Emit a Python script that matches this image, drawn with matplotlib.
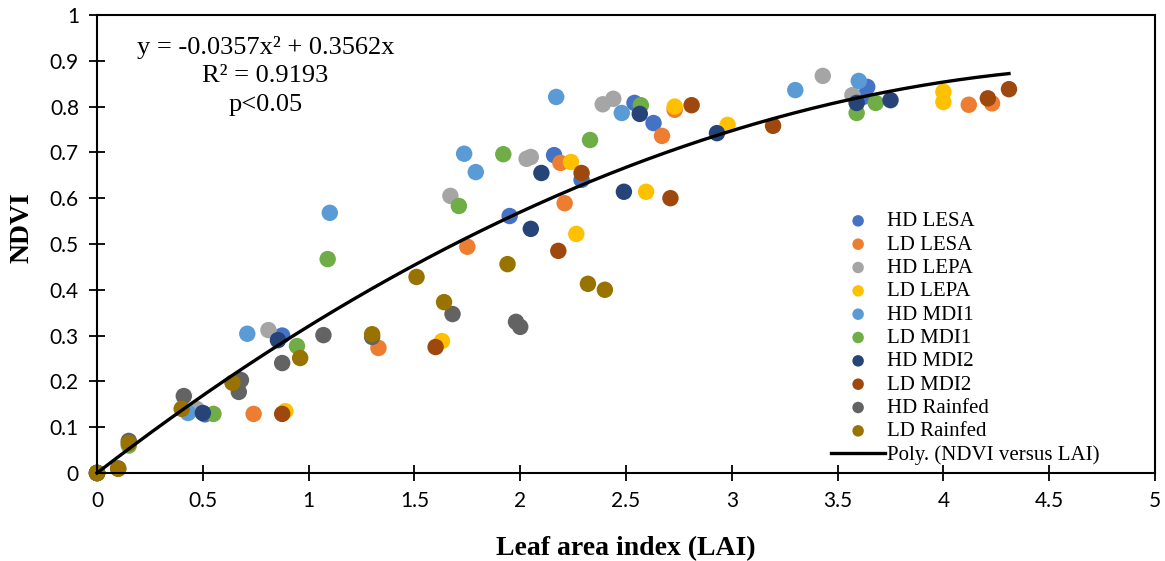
import numpy as np
import matplotlib.pyplot as plt

# NDVI vs LAI by treatment
hd_lesa_x = [0, 0.51, 0.875, 1.95, 2.16, 2.29, 2.54, 2.63, 3.62, 3.64]
hd_lesa_y = [0, 0.128, 0.30, 0.561, 0.694, 0.64, 0.808, 0.764, 0.821, 0.843]
ld_lesa_x = [0, 0.74, 1.33, 1.75, 2.19, 2.21, 2.67, 2.73, 4.12, 4.23]
ld_lesa_y = [0, 0.129, 0.273, 0.494, 0.677, 0.589, 0.736, 0.793, 0.804, 0.807]
hd_lepa_x = [0, 0.47, 0.81, 1.67, 2.03, 2.05, 2.39, 2.44, 3.43, 3.57]
hd_lepa_y = [0, 0.14, 0.312, 0.605, 0.686, 0.69, 0.805, 0.817, 0.867, 0.825]
ld_lepa_x = [0, 0.89, 1.63, 2.24, 2.265, 2.595, 2.73, 2.98, 4.00, 4.00]
ld_lepa_y = [0, 0.135, 0.288, 0.679, 0.522, 0.614, 0.800, 0.760, 0.832, 0.810]
hd_mdi1_x = [0, 0.43, 0.71, 1.10, 1.735, 1.79, 2.17, 2.48, 3.30, 3.60]
hd_mdi1_y = [0, 0.131, 0.304, 0.568, 0.697, 0.657, 0.821, 0.786, 0.836, 0.856]
ld_mdi1_x = [0, 0.15, 0.55, 0.945, 1.09, 1.71, 1.92, 2.33, 2.57, 3.59, 3.68]
ld_mdi1_y = [0, 0.06, 0.129, 0.277, 0.467, 0.583, 0.696, 0.727, 0.803, 0.786, 0.808]
hd_mdi2_x = [0, 0.50, 0.855, 2.05, 2.10, 2.49, 2.565, 2.93, 3.59, 3.75]
hd_mdi2_y = [0, 0.131, 0.29, 0.533, 0.655, 0.614, 0.784, 0.742, 0.808, 0.814]
ld_mdi2_x = [0, 0.875, 1.60, 2.18, 2.29, 2.71, 2.81, 3.195, 4.21, 4.31]
ld_mdi2_y = [0, 0.129, 0.275, 0.485, 0.655, 0.600, 0.803, 0.758, 0.818, 0.838]
hd_rain_x = [0, 0.10, 0.15, 0.41, 0.67, 0.68, 0.875, 1.07, 1.30, 1.68, 1.98, 2.00]
hd_rain_y = [0, 0.01, 0.07, 0.168, 0.177, 0.203, 0.240, 0.301, 0.297, 0.347, 0.330, 0.319]
ld_rain_x = [0, 0.10, 0.15, 0.40, 0.64, 0.96, 1.30, 1.51, 1.64, 1.94, 2.32, 2.40]
ld_rain_y = [0, 0.009, 0.065, 0.140, 0.197, 0.251, 0.303, 0.428, 0.373, 0.456, 0.413, 0.400]

labels = ["HD LESA", "LD LESA", "HD LEPA", "LD LEPA", "HD MDI1",
          "LD MDI1", "HD MDI2", "LD MDI2", "HD Rainfed", "LD Rainfed"]
colors = ["#4472C4", "#ED7D31", "#A5A5A5", "#FFC000", "#5B9BD5",
          "#70AD47", "#264478", "#9E480E", "#636363", "#997300"]
xs = [hd_lesa_x, ld_lesa_x, hd_lepa_x, ld_lepa_x, hd_mdi1_x,
      ld_mdi1_x, hd_mdi2_x, ld_mdi2_x, hd_rain_x, ld_rain_x]
ys = [hd_lesa_y, ld_lesa_y, hd_lepa_y, ld_lepa_y, hd_mdi1_y,
      ld_mdi1_y, hd_mdi2_y, ld_mdi2_y, hd_rain_y, ld_rain_y]

# quadratic trend through the origin
a2, a1 = -0.0357, 0.3562
fit_xmax = 4.31

serif = "Liberation Serif"

fig = plt.figure(figsize=(11.65, 5.61), dpi=100)
ax = fig.add_axes([0.0833, 0.1569, 0.9081, 0.8164])

for x, y, c, lab in zip(xs, ys, colors, labels):
    ax.scatter(x, y, s=140, color=c, edgecolors="none", label=lab,
               zorder=2, clip_on=False)

xf = np.linspace(0, fit_xmax, 200)
ax.plot(xf, a2 * xf**2 + a1 * xf, color="black", lw=2.4, zorder=3,
        label="Poly. (NDVI versus LAI)", clip_on=False)

xticks = np.arange(0, 5.01, 0.5)
yticks = np.round(np.arange(0, 1.01, 0.1), 1)
ax.set_xlim(0, 5)
ax.set_ylim(0, 1)
ax.set_xticks(xticks)
ax.set_yticks(yticks)
ax.set_xticklabels([f"{v:g}" for v in xticks])
ax.set_yticklabels([f"{v:g}" for v in yticks])
ax.tick_params(direction="inout", length=12, width=1.3, labelsize=15, pad=7)
for lbl in ax.get_xticklabels() + ax.get_yticklabels():
    lbl.set_fontfamily("Lato")
for sp in ax.spines.values():
    sp.set_linewidth(1.5)

ax.set_xlabel("Leaf area index (LAI)", fontfamily=serif, fontweight="bold",
              fontsize=20, labelpad=18)
ax.set_ylabel("NDVI", fontfamily=serif, fontweight="bold", fontsize=20)
ax.yaxis.set_label_coords(-0.059, 0.535)

ax.text(0.159, 0.955, "y = -0.0357x² + 0.3562x\nR² = 0.9193\np<0.05",
        transform=ax.transAxes, ha="center", va="top", fontfamily=serif,
        fontsize=19, linespacing=1.4)

leg = ax.legend(loc="lower left", bbox_to_anchor=(0.68, -0.014), frameon=False,
                prop={"family": serif, "size": 15}, markerscale=0.7,
                handlelength=2.6, handletextpad=0.1, labelspacing=0.18,
                borderpad=0.2)

fig.savefig("out.png", dpi=100)
